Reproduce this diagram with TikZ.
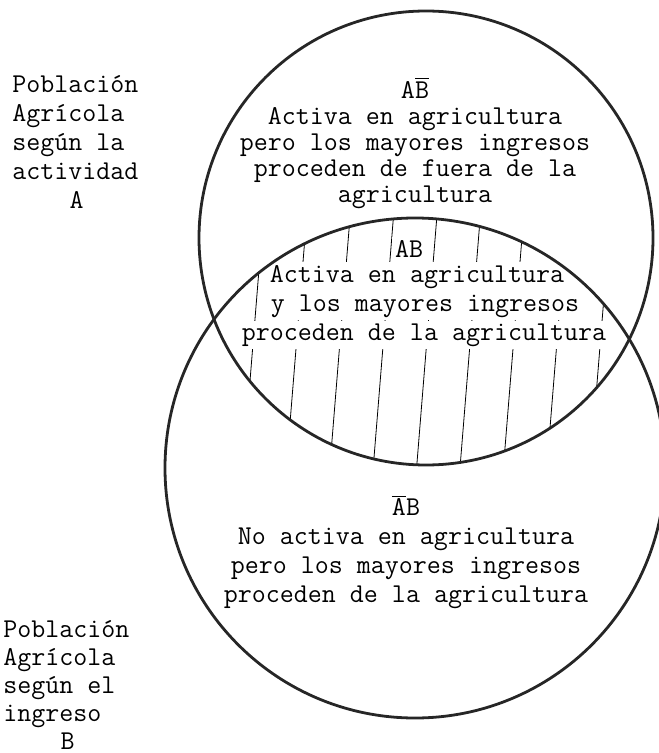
\documentclass[tikz,border=0pt]{standalone}
\usepackage{fontspec}
\usepackage{tikz}
\usetikzlibrary{positioning,calc}

\begin{document}
\begin{tikzpicture}[x=0.5pt, y=-0.5pt,
    txt/.style={font=\ttfamily\fontsize{13.6}{14.5}\selectfont, inner sep=0pt},
    mask/.style={txt, fill=white, inner sep=1.5pt},
    ring/.style={line width=1.4pt, black!85},
    hatchline/.style={thin, black}]
  \useasboundingbox (0,0) rectangle (658,753);
  \coordinate (cA) at (426,238);   % circle A (actividad)
  \coordinate (cB) at (415,468);   % circle B (ingreso)

  % hatching of the intersection AB
  \begin{scope}
    \clip (cA) circle[radius=227];
    \clip (cB) circle[radius=250];
    \foreach \i in {0,...,8}
      \draw[hatchline] ({242+43.4*\i},480) -- ({264.6+43.4*\i},200);
  \end{scope}

  % texts inside the lens (white behind them breaks the hatching)
  \node[mask] (abLbl) at (409,249) {AB};
  \node[mask] (abOne) at (417,277) {Activa en agricultura};
  \node[mask] (abTwo) at (425,306) {y los mayores ingresos};
  \node[mask] (abThree) at (424,335) {proceden de la agricultura};

  % the two circles
  \draw[ring] (cA) circle[radius=227];
  \draw[ring] (cB) circle[radius=250];

  % region texts
  \node[txt, align=center, font=\ttfamily\fontsize{13.6}{13}\selectfont] (regAnB) at (415,143)
    {A$\overline{\mbox{B}}$\\Activa en agricultura\\pero los mayores ingresos\\
     proceden de fuera de la\\agricultura};
  \node[txt, align=center] (regnAB) at (406,552)
    {$\overline{\mbox{A}}$B\\No activa en agricultura\\pero los mayores ingresos\\
     proceden de la agricultura};

  % labels of the two populations
  \node[txt, align=left, anchor=west] (popA) at (12,142)
    {Población\\Agrícola\\según la\\actividad\\\hspace*{2.1em}A};
  \node[txt, align=left, anchor=west, font=\ttfamily\fontsize{13.6}{14}\selectfont] (popB) at (3,685)
    {Población\\Agrícola\\según el\\ingreso\\\hspace*{2.1em}B};
\end{tikzpicture}
\end{document}
